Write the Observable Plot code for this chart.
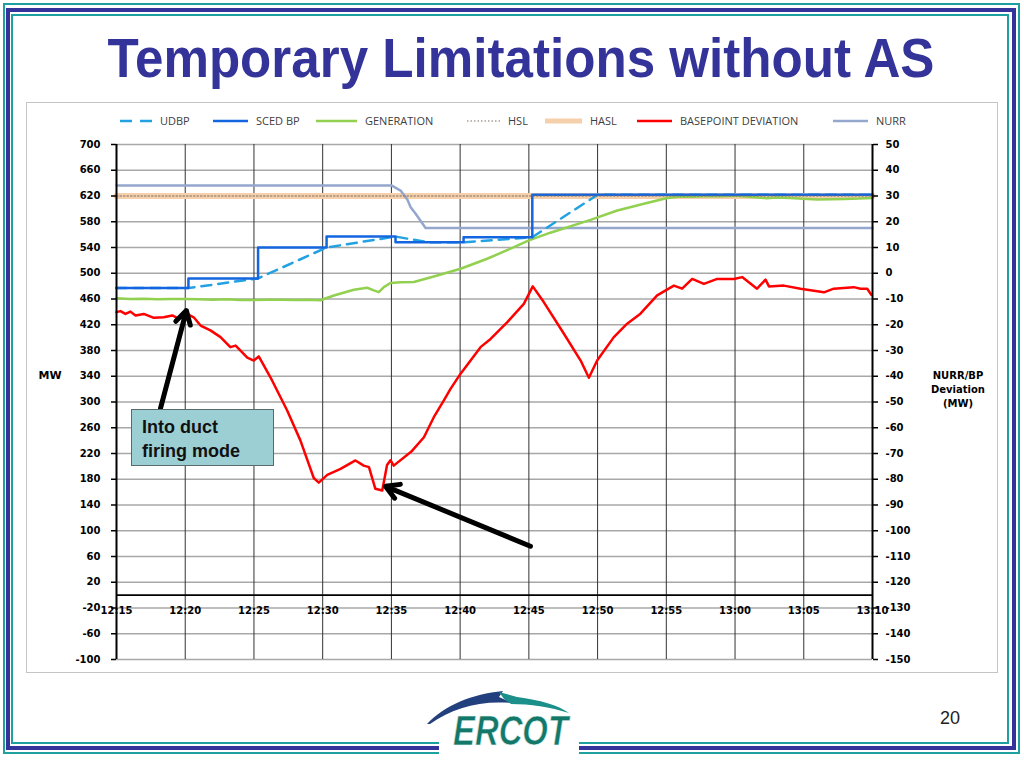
<!DOCTYPE html>
<html><head><meta charset="utf-8">
<script src="https://cdn.jsdelivr.net/npm/d3@7"></script>
<script src="https://cdn.jsdelivr.net/npm/@observablehq/plot@0.6"></script>
<style>
html,body{margin:0;padding:0;background:#fff;}
body{width:1024px;height:768px;position:relative;overflow:hidden;font-family:"Liberation Sans",Arial,sans-serif;}
#deco{position:absolute;left:0;top:0;}
#panel{position:absolute;left:26px;top:102px;width:970px;height:569px;border:1px solid #c4c4c4;background:#fff;}
#legend{position:absolute;left:0;top:110px;}
#chart{position:absolute;left:26px;top:130px;}
.ylab{position:absolute;font-family:"DejaVu Sans",Verdana,sans-serif;font-weight:bold;font-size:10px;color:#000;text-align:center;line-height:14px;}
#note{position:absolute;left:131px;top:409px;width:143px;height:57px;background:#9ccfd3;border:1px solid #5a6a6a;font-family:"Liberation Sans",Arial,sans-serif;font-weight:bold;font-size:18px;line-height:24px;padding:5px 0 0 10px;box-sizing:border-box;color:#111;}
</style>
</head><body>
<svg id="deco" width="1024" height="768">
  <rect x="4" y="4" width="1015" height="749" fill="none" stroke="#1fa0a0" stroke-width="2"/>
  <rect x="8" y="10" width="1006" height="738" fill="none" stroke="#333399" stroke-width="4"/>
  <rect x="12" y="15" width="996" height="728" fill="none" stroke="#1fa0a0" stroke-width="2"/>
  <rect x="439" y="736" width="140" height="22" fill="#fff"/>
  <text x="521" y="77" text-anchor="middle" font-family="Liberation Sans, Arial, sans-serif" font-size="56" font-weight="bold" fill="#333399" textLength="827" lengthAdjust="spacingAndGlyphs">Temporary Limitations without AS</text>
  <path d="M427,724 C445,705 472,694 503,691 L499,697 L512,703 C480,700 452,708 430,724 Z" fill="#22407e"/>
  <path d="M499,692 L517,697 C540,700 558,705 569,713 C550,707 530,704 511,704 L504,699 Z" fill="#1b8f8a"/>
  <text x="453" y="745" font-family="Liberation Sans, Arial, sans-serif" font-size="42" font-style="italic" font-weight="bold" fill="#13786a" stroke="#e8f4f2" stroke-width="0.7" textLength="115" lengthAdjust="spacingAndGlyphs">ERCOT</text>
  <text x="940" y="724" font-family="Liberation Sans, Arial, sans-serif" font-size="18" fill="#222">20</text>
</svg>
<div id="panel"></div>
<svg id="legend" width="1024" height="22"></svg>
<div id="chart"></div>
<div class="ylab" style="left:30px;top:369px;width:40px;font-size:11px;">MW</div>
<div class="ylab" style="left:918px;top:369px;width:80px;">NURR/BP<br>Deviation<br>(MW)</div>
<div id="note">Into duct<br>firing mode</div>
<script>
// ---------- data ----------
const timeTicks = ["12:15","12:20","12:25","12:30","12:35","12:40","12:45","12:50","12:55","13:00","13:05","13:10"];
const leftTicks = [700,660,620,580,540,500,460,420,380,340,300,260,220,180,140,100,60,20,-20,-60,-100];
const rightTicks = [50,40,30,20,10,0,-10,-20,-30,-40,-50,-60,-70,-80,-90,-100,-110,-120,-130,-140,-150];

const seriesNames = ["UDBP","SCED BP","GENERATION","HSL","HASL","BASEPOINT DEVIATION","NURR"];
const seriesColors = ["#22a2e2","#1466e0","#92d050","#7a6e66","#f6cfab","#ff0000","#94a7cd"];

const scedT = ["12:15:00","12:20:14","12:25:18","12:30:17","12:35:18","12:40:15","12:45:15","13:10:00"];
const scedV = [477,492,540,557,548,556,622,622];

const udbpT = ["12:15:00","12:20:14","12:25:18","12:30:17","12:35:18","12:37:40","12:40:15","12:45:15","12:50:00","13:10:00"];
const udbpV = [477,477,492,540,557,548,548,556,622,622];

const genT = ["12:15:00","12:16:00","12:17:00","12:18:00","12:19:00","12:20:00","12:21:00","12:22:00","12:23:00","12:24:00","12:25:00","12:26:00","12:27:00","12:28:00","12:29:00","12:29:50","12:30:49","12:32:16","12:33:14","12:33:43","12:34:05","12:34:27","12:34:56","12:35:40","12:36:38","12:38:05","12:40:02","12:41:58","12:43:55","12:45:00","12:46:34","12:49:29","12:51:26","12:53:22","12:55:04","12:56:02","12:57:00","12:58:00","12:59:00","13:00:00","13:01:00","13:02:18","13:03:00","13:04:00","13:05:58","13:07:00","13:08:00","13:09:00","13:10:00"];
const genV = [461,460,460.5,459.5,460,460,459.5,459,459.5,458.5,458.5,459,459,458.5,459,458,465.5,474.3,477.5,473.3,470.7,478.5,484.8,486.2,486.5,495,507,522.5,540.5,551,563,583,597.5,608,617,619.3,619,620,619.5,620.5,619,616.5,617.5,617,614.5,615,615.5,616,617];

const hslT = ["12:15:00","13:10:00"];
const hslV = [620,620];
const haslT = ["12:15:00","13:10:00"];
const haslV = [620,620];

const devT = ["12:15:00","12:15:17","12:15:39","12:16:01","12:16:23","12:16:59","12:17:43","12:18:26","12:19:03","12:19:25","12:20:08","12:20:37","12:21:07","12:21:50","12:22:34","12:23:17","12:23:40","12:24:31","12:24:59","12:25:21","12:26:12","12:27:25","12:28:23","12:29:21","12:29:43","12:30:20","12:31:18","12:32:23","12:32:59","12:33:22","12:33:50","12:34:20","12:34:41","12:34:56","12:35:10","12:36:30","12:37:22","12:38:05","12:38:49","12:39:18","12:40:02","12:41:29","12:42:13","12:43:26","12:44:38","12:45:17","12:46:05","12:47:33","12:48:46","12:49:22","12:49:58","12:51:11","12:52:09","12:53:07","12:54:20","12:55:33","12:56:09","12:56:53","12:57:44","12:58:42","12:59:55","13:00:31","13:01:00","13:01:36","13:02:13","13:02:28","13:03:33","13:04:46","13:06:28","13:07:11","13:08:38","13:09:08","13:09:37","13:09:54"];
const devV = [-15.1,-14.7,-15.8,-14.9,-16.4,-15.8,-17.3,-17.1,-16.4,-17.3,-15.8,-17.1,-20.3,-22.2,-24.8,-28.7,-28.1,-32.8,-33.9,-32.3,-40.4,-53.3,-65,-79.5,-81.3,-78.3,-76,-72.7,-74.7,-75.3,-83.7,-84.4,-74.5,-72.6,-74.7,-69,-63.7,-55.9,-49.4,-44.9,-39,-28.7,-25.5,-19,-11.9,-5.1,-11.2,-23.5,-33.9,-40.6,-33.9,-24.8,-19.6,-15.7,-8.6,-4.8,-6,-2.2,-4.1,-2.2,-2.2,-1.5,-3.5,-6,-2.5,-5.1,-4.8,-6,-7.4,-6,-5.4,-6,-6,-8.3];

const nurrT = ["12:15:00","12:35:00","12:35:40","12:36:10","12:36:24","12:36:45","12:37:29","13:10:00"];
const nurrV = [34.1,34.1,32.1,28.5,25.6,23.2,17.6,17.6];

// annotation arrows: tail -> head (time, MW)
const arrowFromT = ["12:18:12","12:45:07"];
const arrowFromV = [290,76];
const arrowToT = ["12:20:05","12:34:34"];
const arrowToV = [442,169];

// ---------- build ----------
const pS = d3.utcParse("%H:%M:%S"), pM = d3.utcParse("%H:%M");
const toLeft = r => 500 + 4 * r;            // secondary axis -> primary scale
const zip = (T, V, f = v => v) => T.map((t, i) => ({t: pS(t), v: f(V[i])}));

const sced = zip(scedT, scedV), udbp = zip(udbpT, udbpV), gen = zip(genT, genV);
const hsl = zip(hslT, hslV), hasl = zip(haslT, haslV);
const dev = zip(devT, devV, toLeft), nurr = zip(nurrT, nurrV, toLeft);
const arrows = arrowFromT.map((t, i) => ({x1: pS(t), y1: arrowFromV[i], x2: pS(arrowToT[i]), y2: arrowToV[i]}));
const xt = timeTicks.map(pM);
const t0 = xt[0], t1 = xt[xt.length - 1];
const fmt = d3.utcFormat("%H:%M");

const chart = Plot.plot({
  width: 971, height: 542,
  marginLeft: 90, marginRight: 125, marginTop: 14, marginBottom: 13,
  style: {fontFamily: "DejaVu Sans, Verdana, sans-serif", fontSize: "10px", fontWeight: "bold", color: "#000", background: "transparent"},
  x: {type: "utc", domain: [t0, t1], axis: null},
  y: {domain: [-100, 700], axis: null},
  marks: [
    Plot.ruleY(leftTicks, {stroke: "#a8a8a8", strokeWidth: 1.3}),
    Plot.ruleX(xt.slice(1, -1), {stroke: "#333", strokeWidth: 1}),
    Plot.ruleY([0], {stroke: "#000", strokeWidth: 1.8}),
    Plot.line(hasl, {x: "t", y: "v", stroke: seriesColors[4], strokeWidth: 6}),
    Plot.line(nurr, {x: "t", y: "v", stroke: seriesColors[6], strokeWidth: 2.5}),
    Plot.line(gen, {x: "t", y: "v", stroke: seriesColors[2], strokeWidth: 2.5}),
    Plot.line(udbp, {x: "t", y: "v", stroke: seriesColors[0], strokeWidth: 2.5, strokeDasharray: "10,7"}),
    Plot.line(sced, {x: "t", y: "v", stroke: seriesColors[1], strokeWidth: 2.5, curve: "step-after"}),
    Plot.line(hsl, {x: "t", y: "v", stroke: seriesColors[3], strokeWidth: 1, strokeDasharray: "1.5,2"}),
    Plot.line(dev, {x: "t", y: "v", stroke: seriesColors[5], strokeWidth: 2.5}),
    Plot.ruleX([t0, t1], {stroke: "#000", strokeWidth: 2}),
    Plot.text(xt, {x: d => d, y: () => 0, dy: 16, text: d => fmt(d), fill: "#000"}),
    Plot.axisY(leftTicks, {anchor: "left", tickSize: 5, tickPadding: 11, tickFormat: d => d, label: null, stroke: "#000", strokeWidth: 1.5}),
    Plot.axisY(rightTicks.map(toLeft), {anchor: "right", tickSize: 5, tickPadding: 8, tickFormat: d => (d - 500) / 4, label: null, stroke: "#000", strokeWidth: 1.5}),
    Plot.arrow(arrows, {x1: "x1", y1: "y1", x2: "x2", y2: "y2", stroke: "#000", strokeWidth: 5, headLength: 4.5})
  ]
});
document.getElementById("chart").appendChild(chart);

// ---------- legend ----------
const legendX = [120, 213, 316, 467, 545, 637, 833];
const legendW = [32, 35, 41, 33, 37, 35, 35];
const lg = d3.select("#legend");
seriesNames.forEach((name, i) => {
  const g = lg.append("g");
  const line = g.append("line").attr("x1", legendX[i]).attr("x2", legendX[i] + legendW[i]).attr("y1", 11).attr("y2", 11)
    .attr("stroke", seriesColors[i]).attr("stroke-width", i === 3 ? 1 : (i === 4 ? 5 : 2.5));
  if (i === 0) line.attr("stroke-dasharray", "12,8");
  if (i === 3) line.attr("stroke-dasharray", "1.5,2");
  g.append("text").attr("x", legendX[i] + legendW[i] + 8).attr("y", 11).attr("dy", "0.35em")
    .attr("font-family", "Open Sans, Lato, sans-serif").attr("font-size", 11).attr("fill", "#404040").text(name);
});
</script>
</body></html>
